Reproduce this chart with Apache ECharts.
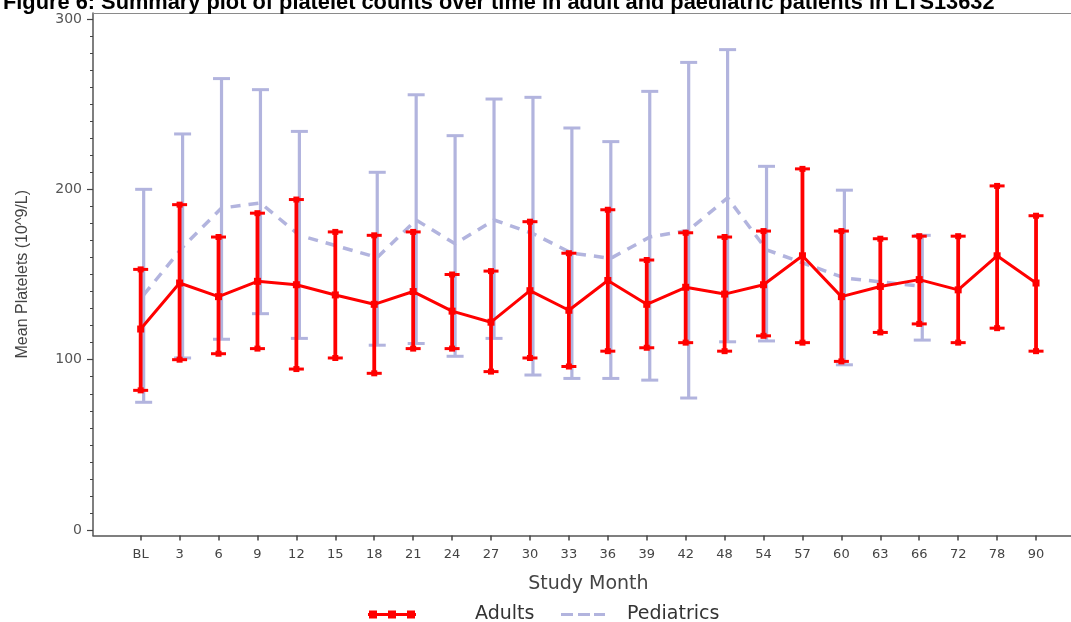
<!DOCTYPE html>
<html>
<head>
<meta charset="utf-8">
<script src="https://cdn.jsdelivr.net/npm/echarts@6/dist/echarts.min.js"></script>
<style>
html,body{margin:0;padding:0;background:#fff}
#chart{width:1071px;height:622px}
</style>
</head>
<body>
<div id="chart"></div>
<script>
// study months on the x axis
var months = ['BL','3','6','9','12','15','18','21','24','27','30','33','36','39','42','48','54','57','60','63','66','72','78','90'];

// adults: mean and error bar limits
var adultMean = [118,145,137,146,144,138,132.5,140,128.5,122,140.5,129,146.5,132.5,142.5,138.5,144,161,137,143,147,141,161,145];
var adultHigh = [153,191,172,186,194,175,173,175,150,152,181,162.5,188,158.5,174.5,172,175.5,212,175.5,171,172.5,172.5,202,184.5];
var adultLow  = [82,100,103.5,106.5,94.5,101,92,106.5,106.5,93,101,96,105,107,110,105,114,110,99,116,121,110,118.5,105];

// pediatrics: mean and error bar limits (null = no value at that month)
var pedMean = [138,166,189,192,173,null,160,182,168,182,174,162.5,159.5,172,176,195,164.5,null,148,null,143,null,null,null];
var pedHigh = [200,232.5,265,258.5,234,null,210,255.5,231.5,253,254,236,228,257.5,274.5,282,213.5,null,199.5,null,173,null,null,null];
var pedLow  = [75,101,112,127,112.5,null,108.5,109.5,102,112.5,91,89,89,88,77.5,110.5,111,null,97,null,111.5,null,null,null];

var yLabels = [0,100,200,300];
var yMinor = [10,20,30,40,50,60,70,80,90,110,120,130,140,150,160,170,180,190,210,220,230,240,250,260,270,280,290];

var RED = '#ff0000';
var LILAC = '#b2b4de';
var Y_MIN = -3.2, Y_MAX = 303.5;

function rangeData(low, high) {
    var out = [];
    months.forEach(function (m, i) {
        if (high[i] != null) out.push([i, low[i], high[i]]);
    });
    return out;
}

function errorBars(color, barWidth, capWidth, dot) {
    return function (params, api) {
        var x = api.value(0);
        var hi = api.coord([x, api.value(2)]);
        var lo = api.coord([x, api.value(1)]);
        var h = capWidth / 2;
        var kids = [
            {type: 'line', shape: {x1: hi[0], y1: hi[1], x2: lo[0], y2: lo[1]}, style: {stroke: color, lineWidth: barWidth}},
            {type: 'line', shape: {x1: hi[0] - h, y1: hi[1], x2: hi[0] + h, y2: hi[1]}, style: {stroke: color, lineWidth: 3}},
            {type: 'line', shape: {x1: lo[0] - h, y1: lo[1], x2: lo[0] + h, y2: lo[1]}, style: {stroke: color, lineWidth: 3}}
        ];
        if (dot) {
            kids.push({type: 'rect', shape: {x: hi[0] - dot / 2, y: hi[1] - dot / 2, width: dot, height: dot}, style: {fill: color}});
            kids.push({type: 'rect', shape: {x: lo[0] - dot / 2, y: lo[1] - dot / 2, width: dot, height: dot}, style: {fill: color}});
        }
        return {type: 'group', children: kids};
    };
}

var hiddenY = function (grid) {
    return {type: 'value', gridIndex: grid, min: Y_MIN, max: Y_MAX, show: false, splitLine: {show: false}};
};

var chart = echarts.init(document.getElementById('chart'));
chart.setOption({
    animation: false,
    backgroundColor: '#fff',
    title: {
        text: 'Figure 6: Summary plot of platelet counts over time in adult and paediatric patients in LTS13632',
        left: 3, top: -8, padding: 0,
        textStyle: {fontFamily: 'Liberation Sans', fontWeight: 'bold', fontSize: 21.8, color: '#000'}
    },
    legend: [
        {
            data: ['Adults'], left: 368, top: 605, padding: 0, itemWidth: 48, itemHeight: 8,
            icon: 'path://M0,2.5h48v3h-48z M1,0h8v8h-8z M20,0h8v8h-8z M39,0h8v8h-8z',
            textStyle: {fontFamily: 'DejaVu Sans', fontSize: 19, color: '#333', padding: [0, 0, 0, 54]}
        },
        {
            data: ['Pediatrics'], left: 561, top: 605, padding: 0, itemWidth: 44, itemHeight: 3,
            icon: 'path://M0,0h12v3h-12z M17,0h12v3h-12z M33,0h11v3h-11z',
            textStyle: {fontFamily: 'DejaVu Sans', fontSize: 19, color: '#333', padding: [0, 0, 0, 17]}
        }
    ],
    grid: [
        {left: 93, right: 0, top: 13, bottom: 86.5},
        {left: 121.2, right: 15.5, top: 13, bottom: 86.5},
        {left: 124.2, right: 12.5, top: 13, bottom: 86.5}
    ],
    xAxis: [
        {type: 'value', gridIndex: 0, position: 'bottom', min: 0, max: 1,
            axisLine: {show: true, onZero: false, lineStyle: {color: '#555', width: 1.5}},
            axisTick: {show: false}, axisLabel: {show: false}, splitLine: {show: false}},
        {type: 'category', gridIndex: 1, data: months, boundaryGap: true,
            axisLine: {show: false, onZero: false},
            axisTick: {show: true, alignWithLabel: true, length: 5, lineStyle: {color: '#444', width: 1.5}},
            axisLabel: {fontFamily: 'DejaVu Sans', fontSize: 13, color: '#444', margin: 13, interval: 0},
            name: 'Study Month', nameLocation: 'middle', nameGap: 39,
            nameTextStyle: {fontFamily: 'DejaVu Sans', fontSize: 19, color: '#444'}},
        {type: 'category', gridIndex: 2, data: months, boundaryGap: true, show: false},
        // top edge of the plot frame
        {type: 'value', gridIndex: 0, position: 'top', min: 0, max: 1,
            axisLine: {show: true, onZero: false, lineStyle: {color: '#8a8a8a', width: 1.2}},
            axisTick: {show: false}, axisLabel: {show: false}, splitLine: {show: false}}
    ],
    yAxis: [
        {type: 'value', gridIndex: 0, position: 'left', min: Y_MIN, max: Y_MAX,
            axisLine: {show: true, onZero: false, lineStyle: {color: '#555', width: 1.5}},
            axisTick: {show: true, length: 6, customValues: yLabels, lineStyle: {color: '#444', width: 1.2}},
            axisLabel: {customValues: yLabels, fontFamily: 'DejaVu Sans', fontSize: 14, color: '#555', margin: 11},
            splitLine: {show: false},
            name: 'Mean Platelets (10^9/L)', nameLocation: 'middle', nameGap: 62,
            nameTextStyle: {fontFamily: 'Liberation Sans', fontSize: 16, color: '#444'}},
        {type: 'value', gridIndex: 0, position: 'left', offset: 0, min: Y_MIN, max: Y_MAX,
            axisLine: {show: false, onZero: false},
            axisTick: {show: true, length: 3, customValues: yMinor, lineStyle: {color: '#444', width: 1}},
            axisLabel: {show: false}, splitLine: {show: false}},
        hiddenY(1),
        hiddenY(2)
    ],
    series: [
        {
            name: 'Pediatrics bars', type: 'custom', xAxisIndex: 2, yAxisIndex: 3, z: 2,
            renderItem: errorBars(LILAC, 3.2, 17, 0),
            encode: {x: 0, y: [1, 2]},
            data: rangeData(pedLow, pedHigh)
        },
        {
            name: 'Pediatrics', type: 'line', xAxisIndex: 2, yAxisIndex: 3, z: 3,
            data: pedMean, connectNulls: true, showSymbol: false, symbol: 'none',
            color: LILAC,
            lineStyle: {color: LILAC, width: 3.5, type: [10, 8]}
        },
        {
            name: 'Adults bars', type: 'custom', xAxisIndex: 1, yAxisIndex: 2, z: 4,
            renderItem: errorBars(RED, 3.8, 15, 6),
            encode: {x: 0, y: [1, 2]},
            data: rangeData(adultLow, adultHigh)
        },
        {
            name: 'Adults', type: 'line', xAxisIndex: 1, yAxisIndex: 2, z: 5,
            data: adultMean, symbol: 'rect', symbolSize: 7,
            color: RED,
            itemStyle: {color: RED},
            lineStyle: {color: RED, width: 3}
        }
    ]
});
</script>
</body>
</html>
